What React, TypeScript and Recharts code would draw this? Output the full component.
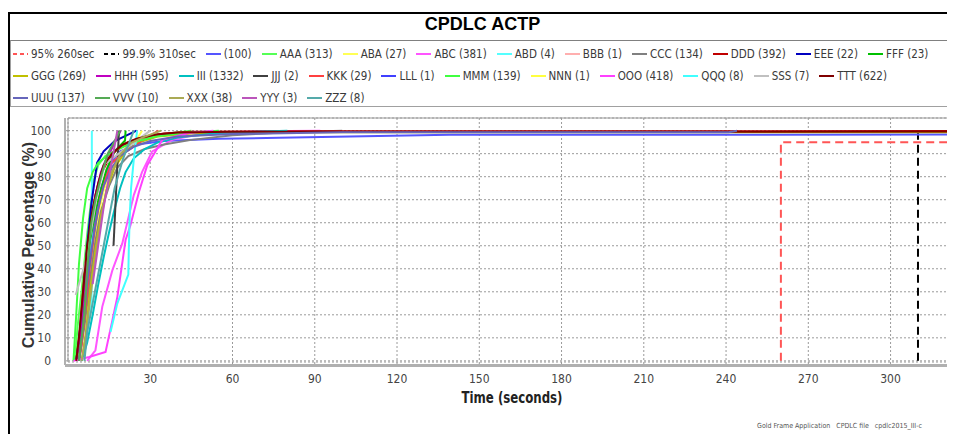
import { CartesianGrid, Line, LineChart, XAxis, YAxis } from "recharts";

type Pt = [number, number]; // [seconds, cumulative %]

// reference lines
const p95: Pt[] = [[260, 0], [260, 95], [323.5, 95]];
const p999: Pt[] = [[310, 0], [310, 99.9], [323.5, 99.9]];

// per-facility cumulative curves
const s100: Pt[] = [[4, 0], [5, 8], [6.5, 25], [8, 45], [10, 62], [12, 75], [15, 85], [19, 91], [25, 94], [35, 95.5], [55, 96.5], [77, 96.9], [139, 98.2], [323.5, 98.3]];
const sAAA: Pt[] = [[2.5, 0], [3.5, 15], [5, 31], [7, 55], [9.3, 78], [11, 85], [13.6, 89], [17, 91], [22, 94], [30, 97], [38, 99], [45, 100]];
const sABA: Pt[] = [[3, 0], [4.5, 7], [5.6, 15], [7, 30], [9, 48], [11, 63], [13, 74], [16, 83], [19, 89], [22, 93], [25, 96], [27, 100]];
const sABC: Pt[] = [[7, 0], [10, 4.6], [12.5, 23.5], [16.2, 39.4], [19.8, 51], [22, 62], [24, 72], [27, 82], [30.7, 91], [38, 96], [50, 99], [70, 99.7], [92, 100]];
const sABD: Pt[] = [[5, 0], [8.6, 25], [8.6, 50], [8.7, 75], [8.7, 100]];
const sBBB: Pt[] = [[12, 100]];
const sCCC: Pt[] = [[4, 0], [6, 15], [8, 35], [10, 52], [12, 65], [15, 76], [18, 84], [22, 89], [28, 92], [35, 94], [45, 96], [60, 98], [80, 99.3], [100, 100]];
const sDDD: Pt[] = [[3, 0], [4.5, 15], [6, 38], [8, 58], [10, 72], [12, 81], [15, 88], [18, 92], [22, 95], [28, 97.5], [35, 98.8], [45, 99.5], [90, 99.7], [323.5, 99.8]];
const sEEE: Pt[] = [[3, 0], [4, 9], [5.5, 27], [7, 50], [8.5, 68], [10.6, 86], [13, 91], [17, 95.5], [25, 100]];
const sFFF: Pt[] = [[4, 0], [5, 13], [6.5, 35], [8, 52], [10, 65], [12, 74], [14, 83], [17, 91], [20.8, 95.7], [21, 100]];
const sGGG: Pt[] = [[5, 0], [6.5, 12], [8, 30], [10, 48], [12, 63], [14, 74], [17, 84], [21, 91], [26, 95], [33, 97.5], [45, 98.8], [70, 99.3], [323.5, 99.3]];
const sHHH: Pt[] = [[3, 0], [4.5, 12], [6, 32], [8, 55], [10, 72], [12, 82], [14, 88], [15.5, 91], [19.2, 100]];
const sIII: Pt[] = [[5, 0], [7, 8], [9, 20], [11, 33], [13, 45], [15, 56], [17, 66], [19, 75], [21, 82], [24, 88], [28, 92], [33, 95], [40, 97], [55, 99], [80, 100]];
const sJJJ: Pt[] = [[16.6, 50], [18.6, 100]];
const sKKK: Pt[] = [[4, 0], [5, 7], [6.5, 24], [8, 41], [10, 59], [12, 72], [14, 80], [16, 86], [20, 90], [24, 93], [28, 96.5], [33, 100]];
const sLLL: Pt[] = [[10, 100]];
const sMMM: Pt[] = [[2, 0], [3, 20], [4, 42], [5.5, 62], [7, 75], [9, 82], [11, 86], [14, 89], [18, 92], [24, 95], [32, 97.5], [42, 99], [55, 100]];
const sNNN: Pt[] = [[20, 100]];
const sOOO: Pt[] = [[2, 0], [7.7, 1.7], [13.7, 3.9], [16.2, 17.7], [18, 27.8], [21, 52.5], [22.8, 59], [25.9, 73.5], [28.9, 85], [34.4, 96], [44, 99], [53, 100]];
const sQQQ: Pt[] = [[15.5, 12.5], [18, 25], [22, 37.5], [22.2, 50], [22.5, 62.5], [23, 75], [24, 87.5], [25.2, 100]];
const sSSS: Pt[] = [[2.8, 28.6], [6.4, 42.9], [8.5, 57.1], [10.5, 71.4], [13.5, 85.7], [30, 100]];
const sTTT: Pt[] = [[3, 0], [4, 10], [5.5, 30], [7, 50], [9, 66], [11, 77], [13, 85], [16, 90], [20, 94], [25, 96.5], [32, 98.3], [40, 99.2], [60, 99.5], [323.5, 99.6]];
const sUUU: Pt[] = [[4, 0], [5.5, 15], [7, 34], [9, 52], [11, 66], [13, 76], [16, 84], [19, 89], [24, 93], [30, 95.5], [40, 97.5], [60, 98.5], [100, 99.3], [241, 99.3], [244, 100]];
const sVVV: Pt[] = [[4, 0], [5, 10], [6, 20], [7, 40], [8.5, 60], [10, 70], [12, 80], [14.5, 90], [19, 100]];
const sXXX: Pt[] = [[5, 0], [6.5, 10.5], [8, 26], [10, 45], [12, 61], [14, 74], [16, 82], [19, 89.5], [23, 94.7], [28, 97.4], [34, 100]];
const sYYY: Pt[] = [[9, 33.3], [13, 66.7], [18, 100]];
const sZZZ: Pt[] = [[6, 0], [7, 12.5], [9, 25], [11, 37.5], [13, 50], [15, 62.5], [17, 75], [20, 87.5], [24, 100]];

const seriesNames = [
  "95% 260sec", "99.9% 310sec", "(100)", "AAA (313)", "ABA (27)", "ABC (381)", "ABD (4)", "BBB (1)", "CCC (134)", "DDD (392)", "EEE (22)", "FFF (23)",
  "GGG (269)", "HHH (595)", "III (1332)", "JJJ (2)", "KKK (29)", "LLL (1)", "MMM (139)", "NNN (1)", "OOO (418)", "QQQ (8)", "SSS (7)", "TTT (622)",
  "UUU (137)", "VVV (10)", "XXX (38)", "YYY (3)", "ZZZ (8)",
];
const seriesColors = [
  "#ff5555", "#000000", "#5555ff", "#55ff55", "#ffff55", "#ff55ff", "#55ffff", "#ffafaf", "#808080", "#c00000", "#0000c0", "#00c000",
  "#c0c000", "#c000c0", "#00c0c0", "#404040", "#ff4040", "#4040ff", "#40ff40", "#ffff40", "#ff40ff", "#40ffff", "#c0c0c0", "#800000",
  "#6666bb", "#55aa55", "#aaaa55", "#bb55bb", "#55aaaa",
];
const seriesData: Pt[][] = [
  p95, p999, s100, sAAA, sABA, sABC, sABD, sBBB, sCCC, sDDD, sEEE, sFFF,
  sGGG, sHHH, sIII, sJJJ, sKKK, sLLL, sMMM, sNNN, sOOO, sQQQ, sSSS, sTTT,
  sUUU, sVVV, sXXX, sYYY, sZZZ,
];
const dashedSeries = [0, 1];

const xTicks = [30, 60, 90, 120, 150, 180, 210, 240, 270, 300];
const yTicks = [0, 10, 20, 30, 40, 50, 60, 70, 80, 90, 100];

const narrow = '"DejaVu Sans Condensed", "Liberation Sans Narrow", sans-serif';
const plain = '"Liberation Sans", Arial, sans-serif';

const toRows = (pts: Pt[]) => pts.map(([t, p]) => ({ t, p }));

function Swatch({ color, dashed }: { color: string; dashed: boolean }) {
  return (
    <svg width={15} height={4} style={{ display: "block" }}>
      <line x1={0} y1={2} x2={15} y2={2} stroke={color} strokeWidth={2} strokeDasharray={dashed ? "4 3" : undefined} />
    </svg>
  );
}

function LegendBox() {
  const rows = [seriesNames.slice(0, 12), seriesNames.slice(12, 24), seriesNames.slice(24)];
  let idx = 0;
  return (
    <div
      style={{
        position: "absolute", top: 26, left: 0, width: 944, height: 67,
        borderTop: "1px solid #808080", borderLeft: "1px solid #a0a0a0", borderBottom: "1px solid #a0a0a0",
        paddingLeft: 2, paddingTop: 2, boxSizing: "border-box",
        fontFamily: narrow, fontSize: 11.5, color: "#3a3a3a",
      }}
    >
      {rows.map((row, r) => (
        <div key={r} style={{ display: "flex", alignItems: "center", height: 22, whiteSpace: "nowrap" }}>
          {row.map((name) => {
            const i = idx++;
            return (
              <div key={name} style={{ display: "flex", alignItems: "center", marginRight: 10 }}>
                <Swatch color={seriesColors[i]} dashed={dashedSeries.includes(i)} />
                <span style={{ marginLeft: 3 }}>{name}</span>
              </div>
            );
          })}
        </div>
      ))}
    </div>
  );
}

export default function App() {
  return (
    <div
      style={{
        position: "relative", width: 945, height: 420, marginTop: 4,
        borderLeft: "2px solid #000", borderTop: "2px solid #000", background: "#fff",
      }}
    >
      <div
        style={{
          position: "absolute", top: 0, left: 0, width: 945, height: 26, lineHeight: "20px",
          textAlign: "center", fontFamily: plain, fontWeight: "bold", fontSize: 18, color: "#000",
        }}
      >
        CPDLC ACTP
      </div>
      <LegendBox />
      <div style={{ position: "absolute", top: 96, left: 0 }}>
        <LineChart width={945} height={290} margin={{ top: 8, right: 0, bottom: 8, left: 28 }}>
          <CartesianGrid stroke="#9a9a9a" strokeDasharray="2 2" />
          <XAxis
            type="number"
            dataKey="t"
            domain={[0, 323.5]}
            allowDataOverflow
            ticks={xTicks}
            height={30}
            axisLine={false}
            tickSize={2}
            tickMargin={10}
            tickLine={{ stroke: "#999" }}
            tick={{ fontFamily: narrow, fontSize: 12, fill: "#444" }}
          />
          <YAxis
            type="number"
            dataKey="p"
            domain={[-0.5, 105.5]}
            allowDataOverflow
            ticks={yTicks}
            width={30}
            axisLine={false}
            tickSize={2}
            tickMargin={15}
            tickLine={{ stroke: "#999" }}
            tick={{ fontFamily: narrow, fontSize: 12, fill: "#444" }}
          />
          {seriesData.map((pts, i) =>
            // a single-sample series has no segment to draw
            pts.length < 2 ? null : (
              <Line
                key={seriesNames[i]}
                data={toRows(pts)}
                dataKey="p"
                name={seriesNames[i]}
                type="linear"
                stroke={seriesColors[i]}
                strokeWidth={2}
                strokeDasharray={dashedSeries.includes(i) ? "8 5" : undefined}
                dot={false}
                activeDot={false}
                isAnimationActive={false}
              />
            )
          )}
        </LineChart>
      </div>
      <svg width={945} height={420} style={{ position: "absolute", top: 0, left: 0, pointerEvents: "none" }}>
        <path d="M58 348 V104 H945" fill="none" stroke="#999" strokeWidth={1} />
        <line x1={55} y1={104} x2={55} y2={351} stroke="#b0b0b0" strokeWidth={2} />
        <line x1={55} y1={351.5} x2={945} y2={351.5} stroke="#b0b0b0" strokeWidth={3} />
        <text
          x={20}
          y={231}
          transform="rotate(-90 20 231)"
          textAnchor="middle"
          dominantBaseline="middle"
          fontFamily={plain}
          fontWeight="bold"
          fontSize={16}
          fill="#333"
        >
          Cumulative Percentage (%)
        </text>
        <text
          x={502}
          y={384}
          textAnchor="middle"
          dominantBaseline="middle"
          fontFamily={narrow}
          fontWeight="bold"
          fontSize={16}
          textLength={101}
          lengthAdjust="spacingAndGlyphs"
          fill="#222"
        >
          Time (seconds)
        </text>
        <text x={747} y={414} fontFamily={narrow} fontSize={7} fill="#555">
          Gold Frame Application{"\u00a0\u00a0\u00a0"}CPDLC file{"\u00a0\u00a0\u00a0"}cpdlc2015_III-c
        </text>
      </svg>
    </div>
  );
}
